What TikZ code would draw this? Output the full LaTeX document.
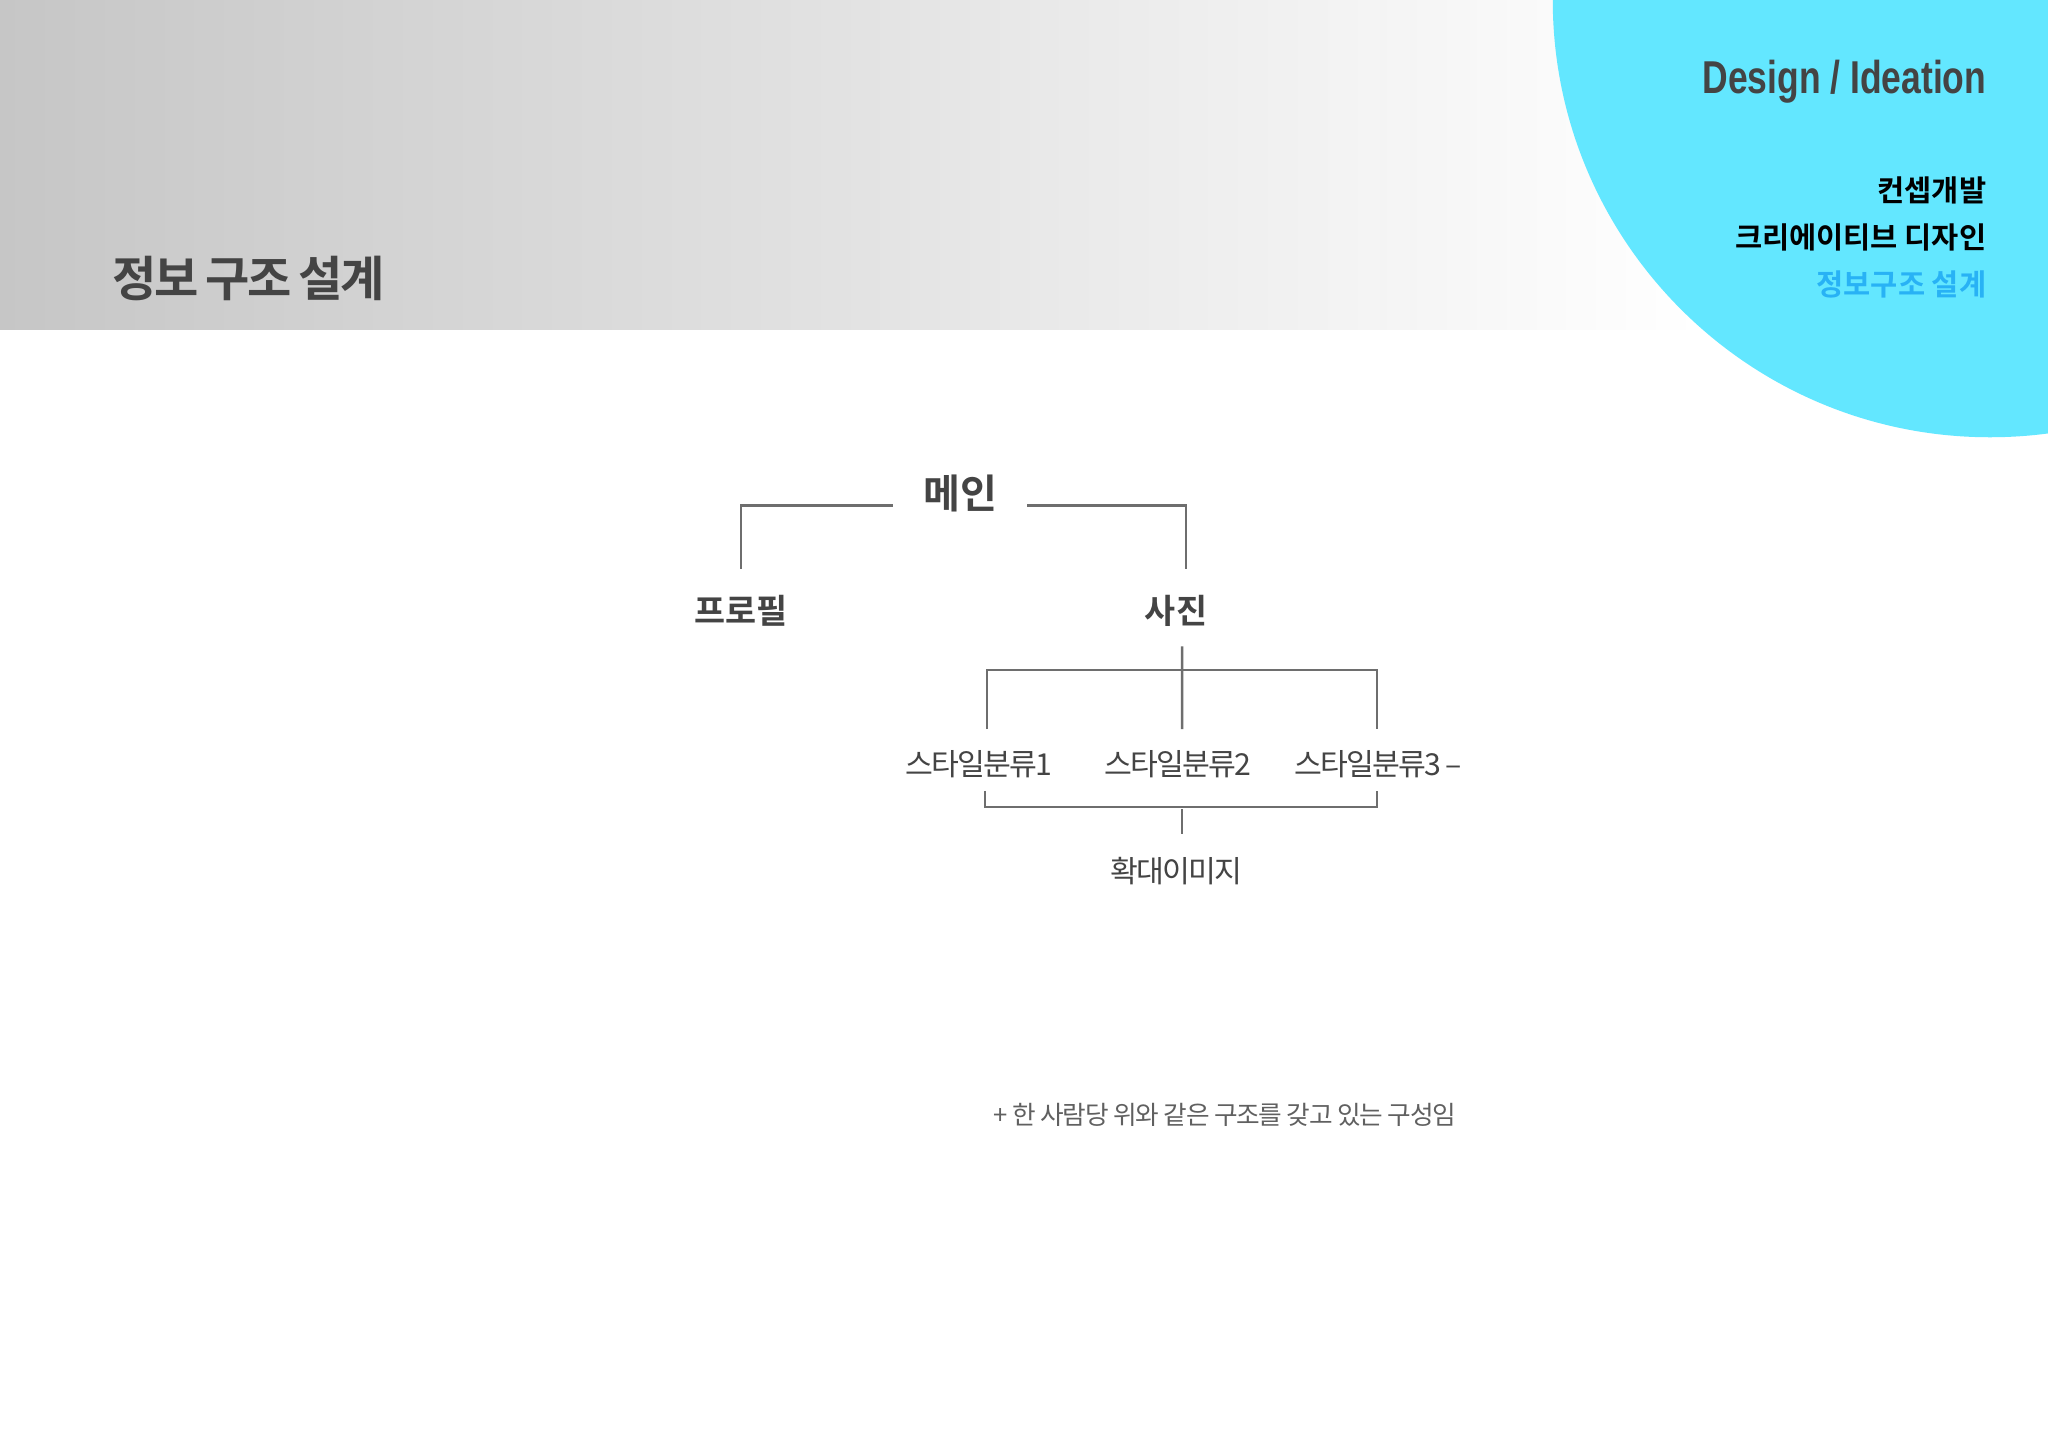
\documentclass[tikz,border=0pt]{standalone}
\usepackage{fontspec}
\setmainfont{Noto Sans CJK KR}[BoldFont={Noto Sans CJK KR Bold}]
\newfontfamily\latinfont{Liberation Sans}[FakeStretch=0.77]
\usepackage{xcolor}
\definecolor{bandgray}{RGB}{198,198,198}
\definecolor{skycyan}{RGB}{99,231,255}
\definecolor{activeblue}{RGB}{40,178,245}
\definecolor{inkgray}{RGB}{68,68,68}
\definecolor{linegray}{RGB}{110,110,110}

\begin{document}
\begin{tikzpicture}[x=0.01cm,y=-0.01cm]
        \tikzset{Heading/.style={%
                font=\fontsize{13.7}{16}\selectfont\bfseries\addfontfeature{LetterSpace=-5},%
                text=inkgray,%
                inner sep=0pt,%
            },
            Menu/.style={%
                font=\fontsize{8.4}{10}\selectfont\bfseries,%
                anchor=east,%
                inner sep=0pt,%
            },
            Top/.style={%
                font=\fontsize{11.4}{13}\selectfont\bfseries,%
                text=inkgray,%
                minimum width=13.3mm,%
                inner sep=0pt,%
            },
            Branch/.style={%
                font=\fontsize{9.6}{11}\selectfont\bfseries,%
                text=inkgray,%
                inner sep=0pt,%
            },
            Leaf/.style={%
                font=\fontsize{8.6}{10}\selectfont\addfontfeature{LetterSpace=-6},%
                text=inkgray,%
                inner sep=0pt,%
            },
            Link/.style={%
                draw=linegray,%
                line width=0.25mm,%
            }}

        \useasboundingbox (0,0) rectangle (2048,1448);
        \fill[white] (0,0) rectangle (2048,1448);

        % header band and corner circle
        \shade[left color=bandgray, right color=white] (0,0) rectangle (1700,329);
        \begin{scope}
            \clip (0,0) rectangle (2048,1448);
            \fill[skycyan] (1990,0) circle[radius=4.37cm];
        \end{scope}

        \node[Heading, anchor=west] (title) at (112,278) {정보\hspace{0.14em}구조\hspace{0.14em}설계};

        \node[anchor=base east, inner sep=0pt, text=inkgray,
              font=\latinfont\bfseries\fontsize{13.1}{15}\selectfont] (design) at (1987,93) {Design / Ideation};
        \node[Menu] (concept) at (1987,190) {컨셉개발};
        \node[Menu] (creative) at (1987,237) {크리에이티브 디자인};
        \node[Menu, text=activeblue] (infoarch) at (1987,284) {정보구조 설계};

        % tree
        \node[Top] (main) at (960,493) {메인};
        \node[Branch] (profile) at (741,611) {프로필};
        \node[Branch] (photo) at (1176,611) {사진};
        \node[Leaf] (style1) at (979,764) {스타일분류1};
        \node[Leaf] (style2) at (1178,764) {스타일분류2};
        \node[Leaf] (style3) at (1378,764) {스타일분류3 –};
        \node[Leaf] (zoom) at (1176,871) {확대이미지};

        \path[Link] ([yshift=-1.25mm]main.west) -| ([yshift=2.6mm]profile.north);
        \path[Link] ([yshift=-1.25mm]main.east) -| ([xshift=1mm,yshift=2.6mm]photo.north);

        \path[Link] ([xshift=0.6mm,yshift=-1.9mm]photo.south) -- ([xshift=0.4mm,yshift=2.05mm]style2.north);
        \path[Link] ([xshift=0.8mm,yshift=2.05mm]style1.north) -- ++(0,-59) -| ([xshift=-0.1mm,yshift=2.05mm]style3.north);

        \path[Link] ([xshift=0.6mm,yshift=-1.25mm]style1.south) -- ++(0,16) -| ([xshift=-0.1mm,yshift=-1.25mm]style3.south);
        \path[Link] ([xshift=0.6mm,yshift=2.25mm]zoom.north) -- ++(0,-25);

        \node[anchor=west, inner sep=0pt, text=inkgray!85,
              font=\fontsize{7.3}{9}\selectfont\addfontfeature{LetterSpace=-5}] (note) at (993,1115) {+ 한 사람당 위와 같은 구조를 갖고 있는 구성임};
\end{tikzpicture}
\end{document}
